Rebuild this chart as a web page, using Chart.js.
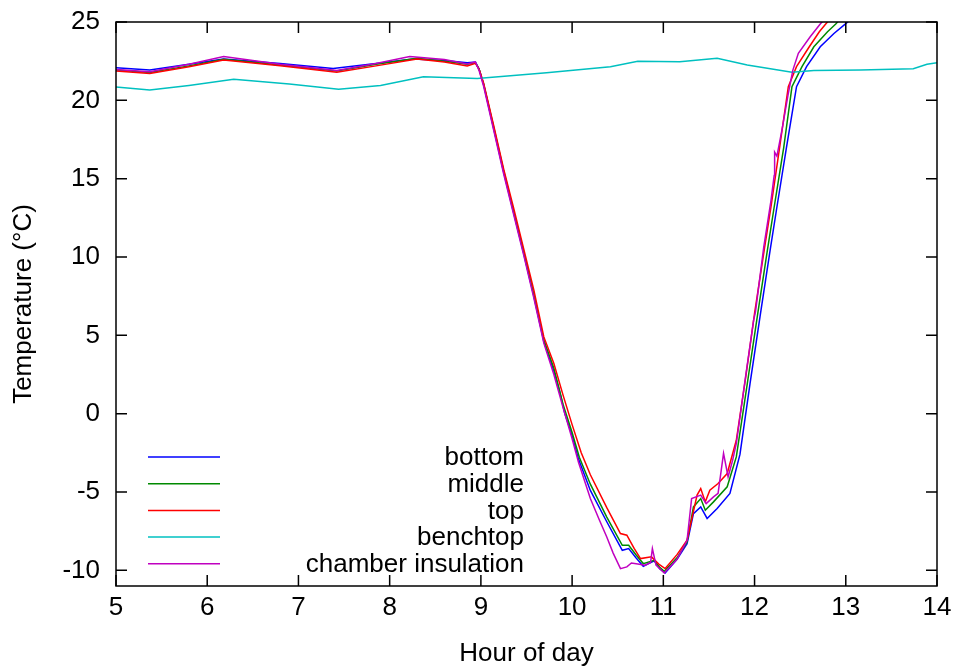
<!DOCTYPE html>
<html>
<head>
<meta charset="utf-8">
<title>Chamber temperatures</title>
<script src="https://cdn.jsdelivr.net/npm/chart.js@4.4.0/dist/chart.umd.min.js"></script>
<style>
  html, body { margin: 0; padding: 0; background: #fff; }
</style>
</head>
<body>
<canvas id="tempChart" width="954" height="666"></canvas>
<script>
// Temperature log, [hour of day, degrees C]
const bottomTemps = [
  [5.0, 22.08], [5.37, 21.93], [5.8, 22.3], [6.18, 22.64], [6.8, 22.35], [7.38, 22.04],
  [7.85, 22.35], [8.26, 22.64], [8.6, 22.55], [8.85, 22.4], [8.94, 22.45], [8.98, 22.0],
  [9.03, 21.0], [9.14, 18.2], [9.25, 15.4], [9.36, 12.8], [9.47, 10.2], [9.58, 7.5],
  [9.69, 4.6], [9.8, 2.7], [9.86, 1.5], [9.92, 0.0], [10.0, -1.4], [10.07, -2.9],
  [10.2, -4.9], [10.38, -6.9], [10.55, -8.72], [10.62, -8.61], [10.7, -9.2], [10.78, -9.74],
  [10.9, -9.4], [10.96, -9.9], [11.02, -10.17], [11.15, -9.3], [11.26, -8.3], [11.33, -6.38],
  [11.41, -5.95], [11.48, -6.69], [11.59, -6.05], [11.73, -5.09], [11.84, -2.6], [11.95, 1.9],
  [12.06, 6.2], [12.17, 10.4], [12.24, 13.0], [12.35, 17.0], [12.46, 20.87], [12.57, 22.15],
  [12.72, 23.42], [12.87, 24.27], [13.0, 24.9], [13.1, 25.4]
];
const middleTemps = [
  [5.0, 21.93], [5.37, 21.78], [5.8, 22.2], [6.18, 22.62], [6.8, 22.25], [7.42, 21.88],
  [7.85, 22.3], [8.3, 22.68], [8.6, 22.5], [8.85, 22.3], [8.94, 22.4], [8.98, 22.0],
  [9.03, 21.05], [9.14, 18.3], [9.25, 15.5], [9.36, 12.9], [9.47, 10.3], [9.58, 7.6],
  [9.69, 4.7], [9.8, 2.9], [9.9, 0.6], [10.0, -1.2], [10.08, -2.8], [10.2, -4.5],
  [10.38, -6.6], [10.55, -8.4], [10.62, -8.4], [10.7, -9.0], [10.78, -9.57], [10.9, -9.36],
  [10.96, -9.8], [11.01, -10.06], [11.15, -9.2], [11.26, -8.19], [11.33, -5.95], [11.41, -5.42],
  [11.46, -6.16], [11.55, -5.63], [11.7, -4.67], [11.8, -2.76], [11.92, 1.9], [12.03, 6.2],
  [12.14, 10.4], [12.21, 13.0], [12.32, 17.0], [12.41, 20.87], [12.52, 22.15], [12.65, 23.42],
  [12.8, 24.38], [12.89, 24.87], [12.97, 25.4]
];
const topTemps = [
  [5.0, 21.87], [5.37, 21.72], [5.8, 22.15], [6.18, 22.57], [6.8, 22.2], [7.42, 21.79],
  [7.85, 22.2], [8.3, 22.64], [8.6, 22.45], [8.85, 22.19], [8.94, 22.36], [8.98, 22.0],
  [9.03, 21.1], [9.14, 18.4], [9.25, 15.6], [9.36, 13.1], [9.47, 10.5], [9.58, 7.9],
  [9.69, 4.9], [9.8, 3.2], [9.9, 1.2], [10.0, -0.7], [10.1, -2.5], [10.2, -3.9],
  [10.38, -6.0], [10.53, -7.65], [10.6, -7.76], [10.68, -8.6], [10.75, -9.25], [10.87, -9.14],
  [10.95, -9.6], [11.02, -9.89], [11.15, -9.0], [11.26, -8.08], [11.37, -5.2], [11.41, -4.78],
  [11.46, -5.63], [11.51, -4.88], [11.6, -4.46], [11.7, -3.82], [11.8, -1.7], [11.9, 2.2],
  [12.0, 6.4], [12.11, 10.6], [12.18, 13.2], [12.28, 17.2], [12.37, 20.87], [12.46, 22.15],
  [12.6, 23.42], [12.71, 24.38], [12.78, 24.87], [12.86, 25.4]
];
const benchtopTemps = [
  [5.0, 20.85], [5.37, 20.66], [5.8, 20.95], [6.29, 21.34], [6.9, 21.05], [7.44, 20.7],
  [7.9, 20.95], [8.37, 21.5], [8.96, 21.4], [9.72, 21.76], [10.42, 22.15], [10.72, 22.5],
  [11.18, 22.47], [11.59, 22.68], [11.92, 22.25], [12.41, 21.79], [12.65, 21.9], [13.16, 21.93],
  [13.74, 22.02], [13.89, 22.3], [14.0, 22.4]
];
const insulationTemps = [
  [5.0, 21.97], [5.37, 21.83], [5.8, 22.3], [6.18, 22.79], [6.8, 22.3], [7.42, 21.9],
  [7.85, 22.35], [8.22, 22.79], [8.6, 22.6], [8.85, 22.32], [8.94, 22.45], [8.98, 21.9],
  [9.03, 20.9], [9.14, 18.1], [9.25, 15.3], [9.36, 12.7], [9.47, 10.1], [9.58, 7.4],
  [9.69, 4.5], [9.8, 2.5], [9.9, 0.4], [10.0, -1.6], [10.07, -3.1], [10.2, -5.42],
  [10.3, -6.8], [10.38, -7.87], [10.45, -8.9], [10.53, -9.89], [10.6, -9.78], [10.65, -9.53],
  [10.72, -9.6], [10.8, -9.67], [10.86, -9.5], [10.88, -8.61], [10.92, -9.67], [11.01, -10.17],
  [11.15, -9.3], [11.26, -8.08], [11.31, -5.42], [11.41, -5.2], [11.47, -5.74], [11.55, -5.31],
  [11.6, -5.09], [11.66, -2.54], [11.71, -4.04], [11.76, -2.97], [11.8, -1.9], [11.9, 2.3],
  [11.99, 5.97], [12.01, 6.5], [12.1, 10.6], [12.18, 13.6], [12.215, 15.2], [12.22, 16.7],
  [12.245, 16.44], [12.3, 18.1], [12.37, 20.44], [12.42, 21.93], [12.48, 23.0], [12.61, 24.06],
  [12.72, 24.87], [12.8, 25.4]
];

const seriesNames = ['bottom', 'middle', 'top', 'benchtop', 'chamber insulation'];
const seriesColors = ['#0000ff', '#008a00', '#ff0000', '#00c0c0', '#c000c0'];
const seriesData = [bottomTemps, middleTemps, topTemps, benchtopTemps, insulationTemps];

const xTicks = [5, 6, 7, 8, 9, 10, 11, 12, 13, 14];
const yTicks = [-10, -5, 0, 5, 10, 15, 20, 25];

const FONT = { family: "'Liberation Sans', Arial, sans-serif", size: 26 };
const TICK_LEN = 11;

// gnuplot-style box: border plus inward tick marks on all four sides
const frameTicks = {
  id: 'frameTicks',
  afterDatasetsDraw(chart) {
    const { ctx, chartArea: a, scales } = chart;
    ctx.save();
    ctx.strokeStyle = '#000';
    ctx.lineWidth = 1.5;
    ctx.beginPath();
    xTicks.forEach(v => {
      const px = scales.x.getPixelForValue(v);
      ctx.moveTo(px, a.bottom); ctx.lineTo(px, a.bottom - TICK_LEN);
      ctx.moveTo(px, a.top); ctx.lineTo(px, a.top + TICK_LEN);
    });
    yTicks.forEach(v => {
      const py = scales.y.getPixelForValue(v);
      ctx.moveTo(a.left, py); ctx.lineTo(a.left + TICK_LEN, py);
      ctx.moveTo(a.right, py); ctx.lineTo(a.right - TICK_LEN, py);
    });
    ctx.stroke();
    ctx.strokeRect(a.left, a.top, a.right - a.left, a.bottom - a.top);
    ctx.restore();
  }
};

// key inside the plot: line sample on the left, label right-aligned
const insideKey = {
  id: 'insideKey',
  afterDraw(chart) {
    const { ctx, chartArea: a } = chart;
    const rowH = 26.7;
    const y0 = a.top + 435;
    ctx.save();
    ctx.font = FONT.size + 'px ' + FONT.family;
    ctx.textAlign = 'right';
    ctx.textBaseline = 'middle';
    chart.data.datasets.forEach((ds, i) => {
      const y = y0 + i * rowH;
      ctx.strokeStyle = ds.borderColor;
      ctx.lineWidth = 1.5;
      ctx.beginPath();
      ctx.moveTo(a.left + 32, y);
      ctx.lineTo(a.left + 104, y);
      ctx.stroke();
      ctx.fillStyle = '#000';
      ctx.fillText(ds.label, a.left + 408, y + 1);
    });
    ctx.restore();
  }
};

new Chart(document.getElementById('tempChart'), {
  type: 'line',
  data: {
    datasets: seriesNames.map((name, i) => ({
      label: name,
      data: seriesData[i].map(p => ({ x: p[0], y: p[1] })),
      borderColor: seriesColors[i],
      borderWidth: 1.5,
      pointRadius: 0,
      tension: 0,
      fill: false,
      order: seriesNames.length - i
    }))
  },
  options: {
    responsive: false,
    animation: false,
    layout: { padding: { top: 22, right: 17, left: 0, bottom: 0 } },
    plugins: {
      legend: { display: false },
      tooltip: { enabled: false }
    },
    scales: {
      x: {
        type: 'linear',
        min: 5,
        max: 14,
        grid: { display: false, drawTicks: false },
        border: { display: false },
        afterBuildTicks: s => { s.ticks = xTicks.map(v => ({ value: v })); },
        afterFit: s => { s.height = 80; s.paddingLeft = 0; s.paddingRight = 0; },
        ticks: { color: '#000', font: FONT, padding: 6, maxRotation: 0 },
        title: { display: true, text: 'Hour of day', color: '#000', font: FONT, padding: { top: 0, bottom: -3 } }
      },
      y: {
        min: -11,
        max: 25,
        grid: { display: false, drawTicks: false },
        border: { display: false },
        afterBuildTicks: s => { s.ticks = yTicks.map(v => ({ value: v })); },
        afterFit: s => { s.width = 116; s.paddingTop = 0; s.paddingBottom = 0; },
        ticks: { color: '#000', font: FONT, padding: 16 },
        title: { display: true, text: 'Temperature (°C)', color: '#000', font: FONT, padding: { top: 8, bottom: 0 } }
      }
    }
  },
  plugins: [frameTicks, insideKey]
});
</script>
</body>
</html>
